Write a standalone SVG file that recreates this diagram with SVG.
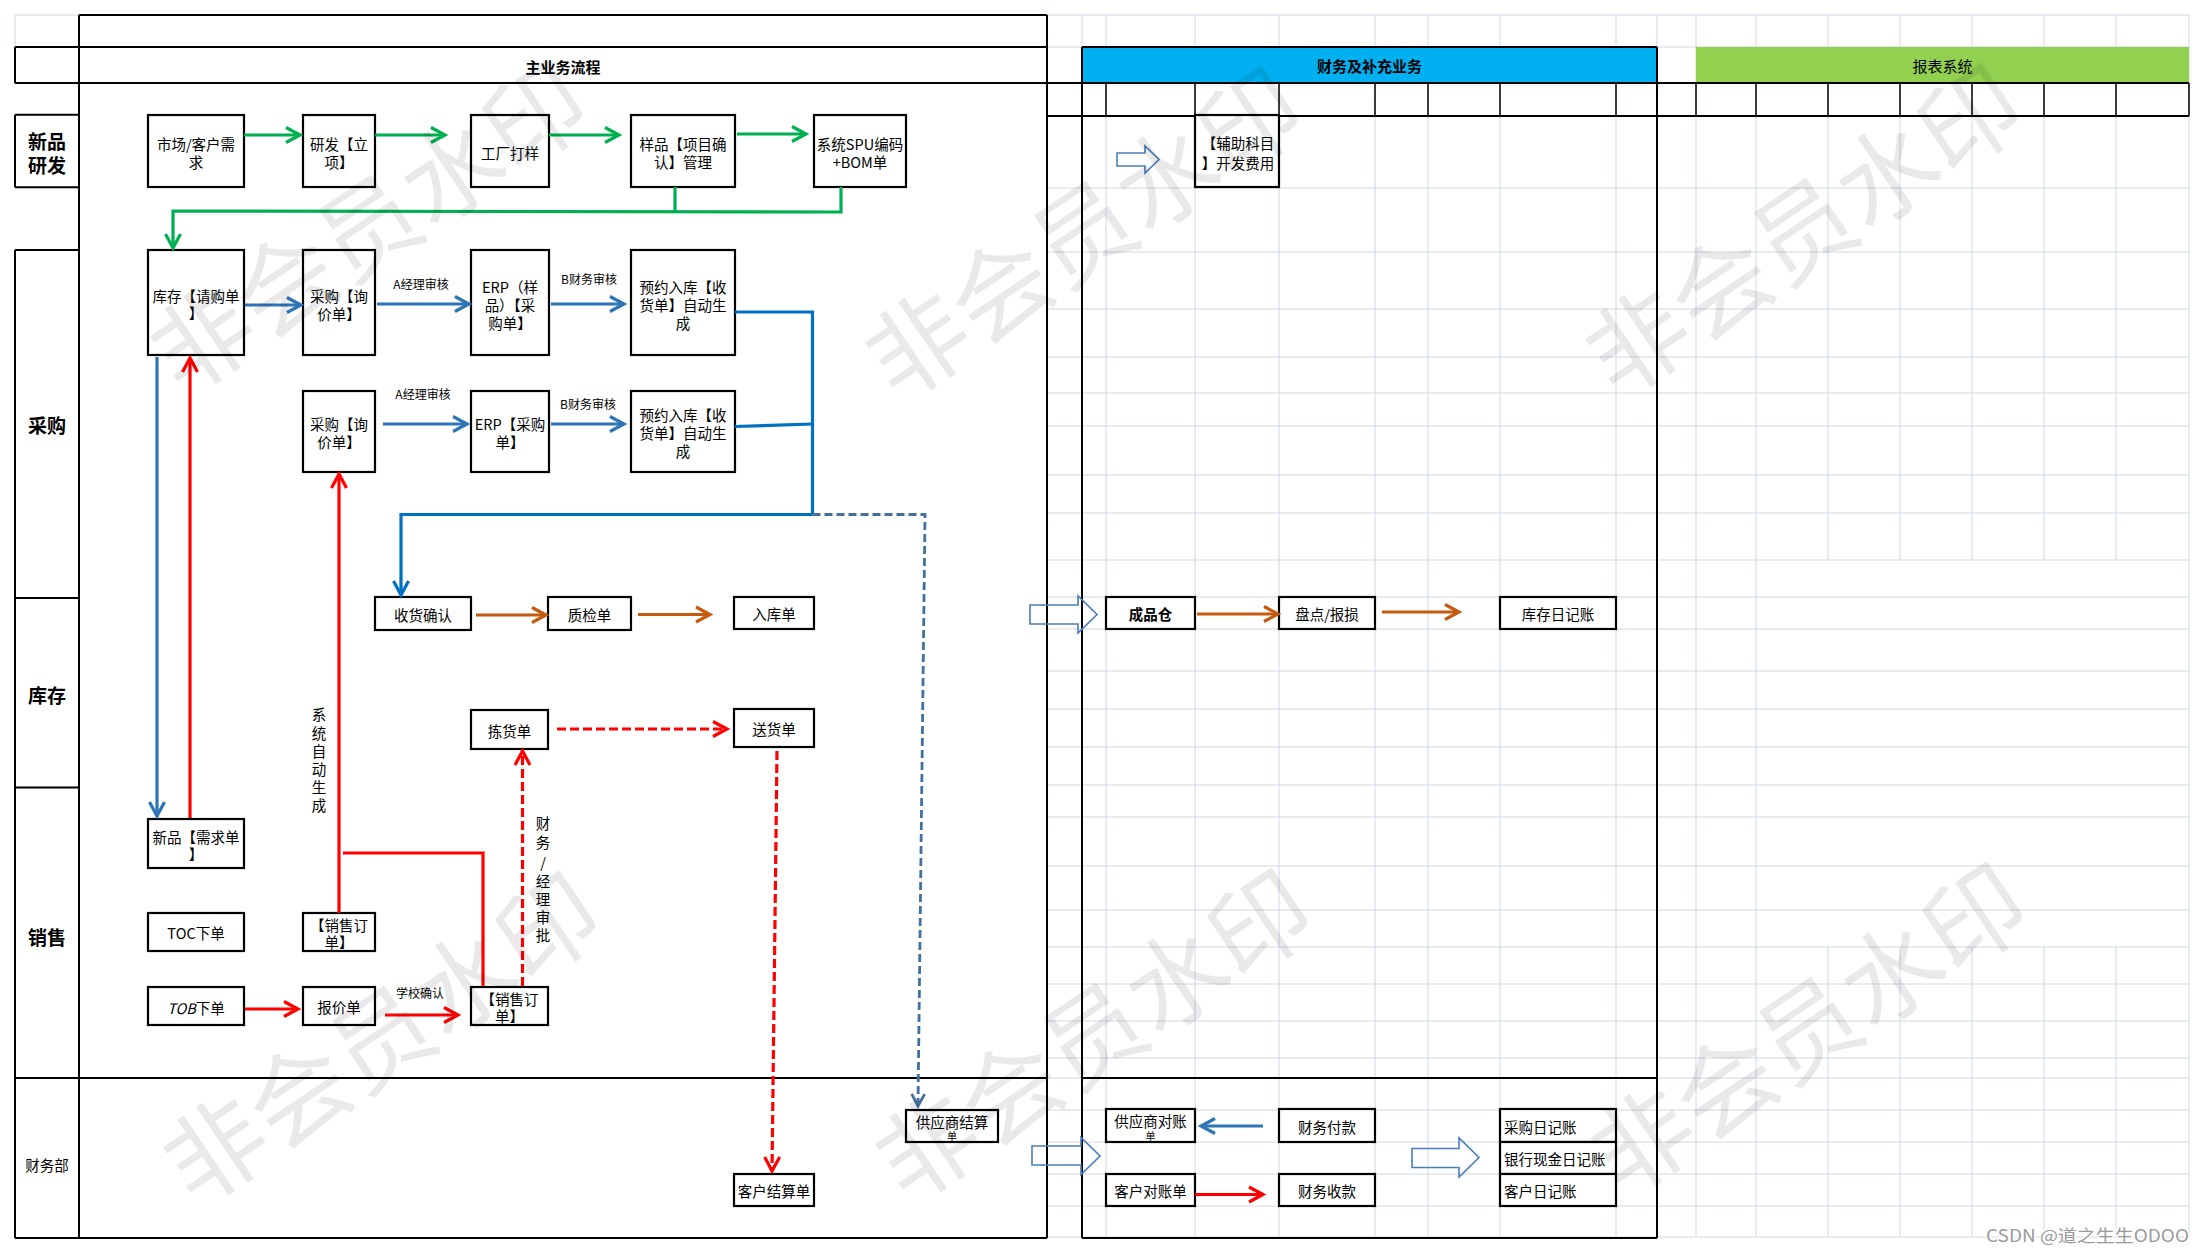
<svg xmlns="http://www.w3.org/2000/svg" width="2204" height="1254" viewBox="0 0 2204 1254">
<style>
.box{fill:#fff;stroke:#000;stroke-width:2.2}
.t{font-family:"Noto Sans CJK SC","Noto Sans",sans-serif;font-size:14.5px;text-anchor:middle;dominant-baseline:central;fill:#000}
.tl{text-anchor:start}
.b{font-weight:700}
.sm{font-size:10px}
.lbl{font-size:12px}
.lane{font-size:19px;font-weight:700}
.hdr{font-size:15px;font-weight:700}
.hdr2{font-size:15px}
.grid{fill:none;stroke:#D0D7E5;stroke-width:1}
.frm{fill:none;stroke:#000;stroke-width:2}
.frm1{fill:none;stroke:#000;stroke-width:1.5}
.c{fill:none;stroke-width:3.2;stroke-linejoin:miter}
.cg{stroke:#00B050;marker-end:url(#ah-g)}
.cgn{stroke:#00B050}
.cb{stroke:#2E75B6;marker-end:url(#ah-b)}
.cB{stroke:#0070C0}
.cBa{stroke:#0070C0;marker-end:url(#ah-B)}
.cbd{stroke:#41719C;stroke-width:2.8;stroke-dasharray:8 4;marker-end:url(#ah-bd)}
.cr{stroke:#FF0000;marker-end:url(#ah-r)}
.crn{stroke:#FF0000}
.crd{stroke:#FF0000;stroke-dasharray:9 4;marker-end:url(#ah-r)}
.co{stroke:#C55A11;marker-end:url(#ah-o)}
.ha{fill:none;stroke:#4A7EBB;stroke-width:1.6}
.wm{font-family:"Noto Sans CJK SC",sans-serif;font-size:100px;fill:#000;fill-opacity:0.085;text-anchor:middle;dominant-baseline:central}
</style>
<defs>
<marker id="ah-g" viewBox="-18 -10 24 20" refX="0" refY="0" markerWidth="24" markerHeight="20" markerUnits="userSpaceOnUse" orient="auto"><path d="M-14,-7.5 L0,0 L-14,7.5" fill="none" stroke="#00B050" stroke-width="3.2"/></marker>
<marker id="ah-b" viewBox="-18 -10 24 20" refX="0" refY="0" markerWidth="24" markerHeight="20" markerUnits="userSpaceOnUse" orient="auto"><path d="M-14,-7.5 L0,0 L-14,7.5" fill="none" stroke="#2E75B6" stroke-width="3.2"/></marker>
<marker id="ah-B" viewBox="-18 -10 24 20" refX="0" refY="0" markerWidth="24" markerHeight="20" markerUnits="userSpaceOnUse" orient="auto"><path d="M-14,-7.5 L0,0 L-14,7.5" fill="none" stroke="#0070C0" stroke-width="3.2"/></marker>
<marker id="ah-bd" viewBox="-18 -10 24 20" refX="0" refY="0" markerWidth="24" markerHeight="20" markerUnits="userSpaceOnUse" orient="auto"><path d="M-12,-6.5 L0,0 L-12,6.5" fill="none" stroke="#41719C" stroke-width="2.8"/></marker>
<marker id="ah-r" viewBox="-18 -10 24 20" refX="0" refY="0" markerWidth="24" markerHeight="20" markerUnits="userSpaceOnUse" orient="auto"><path d="M-14,-7.5 L0,0 L-14,7.5" fill="none" stroke="#FF0000" stroke-width="3.2"/></marker>
<marker id="ah-o" viewBox="-18 -10 24 20" refX="0" refY="0" markerWidth="24" markerHeight="20" markerUnits="userSpaceOnUse" orient="auto"><path d="M-14,-7.5 L0,0 L-14,7.5" fill="none" stroke="#C55A11" stroke-width="3.2"/></marker>
</defs>
<rect width="2204" height="1254" fill="#fff"/>

<g id="grid">
<path class="grid" d="M1082,15V1237M1106,15V1237M1195,15V1237M1279,15V1237M1375,15V1237M1428,15V1237M1500,15V1237M1616,15V1237M1657,15V1237M1696,15V1237M1756,15V1237M2189,15V1237M1828,15V560M1828,947V1237M1900,15V560M1900,947V1237M1972,15V560M1972,947V1237M2044,15V560M2044,947V1237M2116,15V560M2116,947V1237"/>
<path class="grid" d="M1047,15H2189M1047,47H2189M1047,188H2189M1047,252H2189M1047,309H2189M1047,357H2189M1047,393H2189M1047,426H2189M1047,475H2189M1047,513H2189M1047,560H2189M1047,597H2189M1047,629H2189M1047,671H2189M1047,709H2189M1047,747H2189M1047,785H2189M1047,817H2189M1047,866H2189M1047,910H2189M1047,947H2189M1047,984H2189M1047,1021H2189M1047,1058H2189M1047,1078H2189M1047,1110H2189M1047,1142H2189M1047,1174H2189M1047,1206H2189M1047,1237H2189"/>
<path class="grid" d="M15,15H79M15,15V47"/>
</g>

<g id="frame">
<rect x="1082" y="47" width="575" height="36" fill="#00B0F0"/>
<rect x="1696" y="47" width="493" height="36" fill="#92D050"/>
<path class="frm" d="M79,15H1047M15,47H1047M15,83H2189M1047,116H2189M79,15V1238M1047,15V1238M15,1238H1047M15,47V83M15,114.7V187.3M15,250V1238M15,114.7H79M15,187.3H79M15,250H79M15,598H79M15,787.5H79M15,1078H1047M1082,1078H1657M1082,47H1657M1082,47V1238M1657,47V1238M1082,1238H1657"/>
<path class="frm1" d="M1106,83V116M1195,83V116M1279,83V116M1375,83V116M1428,83V116M1500,83V116M1616,83V116M1696,83V116M1756,83V116M1828,83V116M1900,83V116M1972,83V116M2044,83V116M2116,83V116M2189,83V116"/>
<text class="t hdr" x="563" y="66">主业务流程</text>
<text class="t hdr" x="1369.5" y="65">财务及补充业务</text>
<text class="t hdr2" x="1942.5" y="65">报表系统</text>
</g>

<g id="lanes">
<text class="t lane" x="47" y="140">新品</text>
<text class="t lane" x="47" y="164">研发</text>
<text class="t lane" x="47" y="424">采购</text>
<text class="t lane" x="47" y="694">库存</text>
<text class="t lane" x="47" y="936">销售</text>
<text class="t" x="47" y="1164">财务部</text>
</g>

<g id="n_market"><rect class="box" x="148" y="115" width="96" height="72"/><text class="t"><tspan x="196" y="143">市场/客户需</tspan><tspan x="196" y="161">求</tspan></text></g>
<g id="n_rd"><rect class="box" x="303" y="115" width="72" height="72"/><text class="t"><tspan x="339" y="143">研发【立</tspan><tspan x="339" y="161">项】</tspan></text></g>
<g id="n_factory"><rect class="box" x="471" y="115" width="78" height="72"/><text class="t" x="510" y="152">工厂打样</text></g>
<g id="n_sample"><rect class="box" x="631" y="115" width="104" height="72"/><text class="t"><tspan x="683" y="143">样品【项目确</tspan><tspan x="683" y="161">认】管理</tspan></text></g>
<g id="n_spu"><rect class="box" x="814" y="115" width="92" height="72"/><text class="t"><tspan x="860" y="143">系统SPU编码</tspan><tspan x="860" y="161">+BOM单</tspan></text></g>

<g id="n_req"><rect class="box" x="148" y="250" width="96" height="105"/><text class="t"><tspan x="196" y="295">库存【请购单</tspan><tspan x="196" y="312">】</tspan></text></g>
<g id="n_inq1"><rect class="box" x="303" y="250" width="72" height="105"/><text class="t"><tspan x="339" y="295">采购【询</tspan><tspan x="339" y="313">价单】</tspan></text></g>
<g id="n_erp1"><rect class="box" x="471" y="250" width="78" height="105"/><text class="t"><tspan x="510" y="286">ERP（样</tspan><tspan x="510" y="304">品）【采</tspan><tspan x="510" y="322">购单】</tspan></text></g>
<g id="n_pre1"><rect class="box" x="631" y="250" width="104" height="105"/><text class="t"><tspan x="683" y="286">预约入库【收</tspan><tspan x="683" y="304">货单】自动生</tspan><tspan x="683" y="322">成</tspan></text></g>

<g id="n_inq2"><rect class="box" x="303" y="391" width="72" height="81"/><text class="t"><tspan x="339" y="423">采购【询</tspan><tspan x="339" y="441">价单】</tspan></text></g>
<g id="n_erp2"><rect class="box" x="471" y="391" width="78" height="81"/><text class="t"><tspan x="510" y="423">ERP【采购</tspan><tspan x="510" y="441">单】</tspan></text></g>
<g id="n_pre2"><rect class="box" x="631" y="391" width="104" height="81"/><text class="t"><tspan x="683" y="414">预约入库【收</tspan><tspan x="683" y="432">货单】自动生</tspan><tspan x="683" y="450">成</tspan></text></g>

<g id="n_rc"><rect class="box" x="375" y="597" width="96" height="33"/><text class="t" x="423" y="614">收货确认</text></g>
<g id="n_qc"><rect class="box" x="548" y="597" width="83" height="33"/><text class="t" x="589.5" y="614">质检单</text></g>
<g id="n_in"><rect class="box" x="734" y="597" width="80" height="32"/><text class="t" x="774" y="613">入库单</text></g>
<g id="n_pick"><rect class="box" x="471" y="710" width="77" height="39"/><text class="t" x="509.5" y="730">拣货单</text></g>
<g id="n_del"><rect class="box" x="734" y="709" width="80" height="38"/><text class="t" x="774" y="728">送货单</text></g>

<g id="n_newreq"><rect class="box" x="148" y="819" width="96" height="49"/><text class="t"><tspan x="196" y="836">新品【需求单</tspan><tspan x="196" y="853">】</tspan></text></g>
<g id="n_toc"><rect class="box" x="148" y="913" width="96" height="38"/><text class="t" x="196" y="932">TOC下单</text></g>
<g id="n_so1"><rect class="box" x="303" y="913" width="72" height="38"/><text class="t"><tspan x="339" y="924">【销售订</tspan><tspan x="339" y="941">单】</tspan></text></g>
<g id="n_tob"><rect class="box" x="148" y="987" width="96" height="38"/><text class="t" x="196" y="1007"><tspan font-style="italic">TOB</tspan>下单</text></g>
<g id="n_quote"><rect class="box" x="303" y="987" width="72" height="38"/><text class="t" x="339" y="1006">报价单</text></g>
<g id="n_so2"><rect class="box" x="471" y="987" width="77" height="38"/><text class="t"><tspan x="509.5" y="998">【销售订</tspan><tspan x="509.5" y="1015">单】</tspan></text></g>

<g id="n_supset"><rect class="box" x="906" y="1110" width="92" height="32"/><text class="t" x="952" y="1121">供应商结算</text><text class="t sm" x="952" y="1135.5">单</text></g>
<g id="n_custset"><rect class="box" x="734" y="1174" width="80" height="32"/><text class="t" x="774" y="1190">客户结算单</text></g>

<g id="n_aux"><rect class="box" x="1195" y="115" width="84" height="72"/><text class="t"><tspan x="1238" y="142">【辅助科目</tspan><tspan x="1238" y="162">】开发费用</tspan></text></g>
<g id="n_fg"><rect class="box" x="1106" y="597" width="89" height="32"/><text class="t b" x="1150.5" y="613">成品仓</text></g>
<g id="n_cnt"><rect class="box" x="1279" y="597" width="96" height="32"/><text class="t" x="1327" y="613">盘点/报损</text></g>
<g id="n_invj"><rect class="box" x="1500" y="597" width="116" height="32"/><text class="t" x="1558" y="613">库存日记账</text></g>
<g id="n_supstmt"><rect class="box" x="1106" y="1109" width="89" height="33"/><text class="t" x="1150.5" y="1120">供应商对账</text><text class="t sm" x="1150.5" y="1135">单</text></g>
<g id="n_pay"><rect class="box" x="1279" y="1109" width="96" height="33"/><text class="t" x="1327" y="1126">财务付款</text></g>
<g id="n_custstmt"><rect class="box" x="1106" y="1174" width="89" height="32"/><text class="t" x="1150.5" y="1190">客户对账单</text></g>
<g id="n_recv"><rect class="box" x="1279" y="1174" width="96" height="32"/><text class="t" x="1327" y="1190">财务收款</text></g>
<g id="n_purj"><rect class="box" x="1500" y="1109" width="116" height="33"/><text class="t tl" x="1504" y="1126">采购日记账</text></g>
<g id="n_bankj"><rect class="box" x="1500" y="1142" width="116" height="32"/><text class="t tl" x="1504" y="1158">银行现金日记账</text></g>
<g id="n_custj"><rect class="box" x="1500" y="1174" width="116" height="32"/><text class="t tl" x="1504" y="1190">客户日记账</text></g>

<g id="connectors">
<path class="c cg" d="M244,135H300"/>
<path class="c cg" d="M375,135H445"/>
<path class="c cg" d="M549,135H619"/>
<path class="c cg" d="M737,134H806"/>
<path class="c cgn" d="M675,187V211"/>
<path class="c cg" d="M841,187V212L173,211V248"/>

<path class="c cb" d="M245,305H301"/>
<path class="c cb" d="M377,304H469"/>
<path class="c cb" d="M551,304H624"/>
<path class="c cb" d="M383,424H467"/>
<path class="c cb" d="M551,424H624"/>
<path class="c cb" d="M157,357V816"/>

<path class="c cB" d="M735,312H812.5V514.5"/>
<path class="c cB" d="M735,426.5L812.5,424"/>
<path class="c cBa" d="M812.5,514.5H401V595"/>
<path class="c cbd" d="M812.5,514.5H925L918,1106"/>

<path class="c cr" d="M190,818V358"/>
<path class="c cr" d="M339,913V474"/>
<path class="c crn" d="M483,986V853H343"/>
<path class="c cr" d="M245,1009H298"/>
<path class="c cr" d="M385,1015H458"/>
<path class="c crd" d="M522.5,986V751"/>
<path class="c crd" d="M557,729H727"/>
<path class="c crd" d="M777,751L772,1171"/>

<path class="c co" d="M476,615H546"/>
<path class="c co" d="M638,614.5H710"/>
<path class="c co" d="M1197,614H1278"/>
<path class="c co" d="M1382,612H1459"/>
<path class="c cb" d="M1263,1126H1201"/>
<path class="c cr" d="M1195,1194.5H1263"/>

<path class="ha" d="M1117,153H1145V146L1159,159.5L1145,173V166H1117Z"/>
<path class="ha" d="M1030,605H1078V596L1097,614.5L1078,633V624H1030Z"/>
<path class="ha" d="M1032,1146H1081V1137.5L1100,1156L1081,1174.5V1165H1032Z"/>
<path class="ha" d="M1412,1148.5H1459V1138L1479,1157.5L1459,1177V1167.5H1412Z"/>

<text class="t lbl" x="421" y="283">A经理审核</text>
<text class="t lbl" x="589" y="278">B财务审核</text>
<text class="t lbl" x="423" y="393">A经理审核</text>
<text class="t lbl" x="588" y="403">B财务审核</text>
<text class="t lbl" x="420" y="992">学校确认</text>
<text class="t"><tspan x="319" y="713">系</tspan><tspan x="319" y="731.5">统</tspan><tspan x="319" y="750">自</tspan><tspan x="319" y="768">动</tspan><tspan x="319" y="786">生</tspan><tspan x="319" y="804">成</tspan></text>
<text class="t"><tspan x="543" y="822">财</tspan><tspan x="543" y="841">务</tspan><tspan x="543" y="861">/</tspan><tspan x="543" y="879.5">经</tspan><tspan x="543" y="898">理</tspan><tspan x="543" y="916">审</tspan><tspan x="543" y="934">批</tspan></text>
</g>

<g id="watermarks">
<text class="wm" transform="translate(365,222) rotate(-34)">非会员水印</text>
<text class="wm" transform="translate(1080,228) rotate(-34)">非会员水印</text>
<text class="wm" transform="translate(1800,225) rotate(-34)">非会员水印</text>
<text class="wm" transform="translate(378,1033) rotate(-34)">非会员水印</text>
<text class="wm" transform="translate(1090,1030) rotate(-34)">非会员水印</text>
<text class="wm" transform="translate(1805,1024) rotate(-34)">非会员水印</text>
<text x="2189" y="1242" text-anchor="end" textLength="203" lengthAdjust="spacingAndGlyphs" style="font-family:'Noto Sans CJK SC','Noto Sans',sans-serif;font-size:17px;fill:#9a9a9a;stroke:#fff;stroke-width:3;paint-order:stroke">CSDN @道之生生ODOO</text>
</g>
</svg>
